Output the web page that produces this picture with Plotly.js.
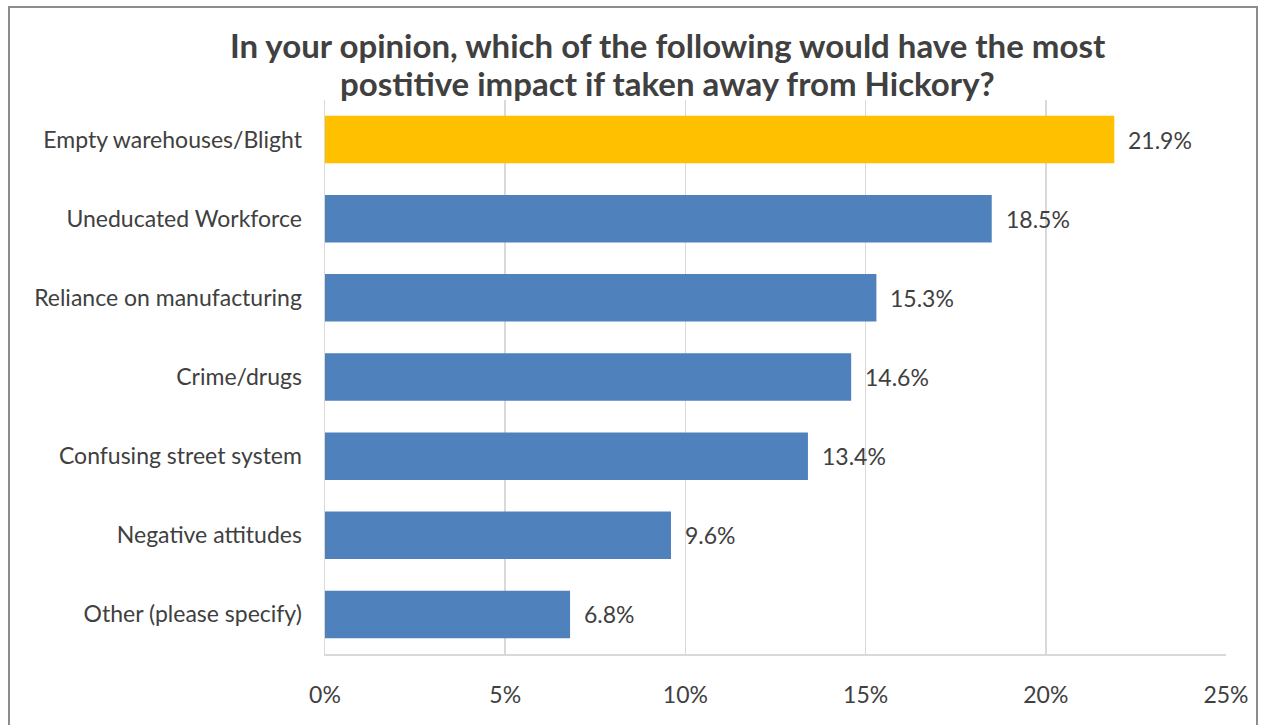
<!DOCTYPE html>
<html><head><meta charset="utf-8">
<script src="https://cdn.plot.ly/plotly-3.0.1.min.js"></script>
<style>
html,body{margin:0;padding:0;background:#fff;}
#frame{position:absolute;left:8px;top:6px;width:1250px;height:740px;border:2px solid #8c8c8c;box-sizing:border-box;}
#chart{position:absolute;left:0;top:0;width:1262px;height:725px;}
</style></head>
<body>
<div id="frame"></div>
<div id="chart"></div>
<script>
const categories = ["Empty warehouses/Blight","Uneducated Workforce","Reliance on manufacturing","Crime/drugs","Confusing street system","Negative attitudes","Other (please specify)"];
const values = [21.9, 18.5, 15.3, 14.6, 13.4, 9.6, 6.8];
const barColors = ["#FFC000","#4F81BD","#4F81BD","#4F81BD","#4F81BD","#4F81BD","#4F81BD"];
const tickVals = [0,5,10,15,20,25];
const tickText = ["0%","5%","10%","15%","20%","25%"];
const titleLines = ["In your opinion, which of the following would have the most","postitive impact if taken away from Hickory?"];
const FONT = "Lato, 'Open Sans', sans-serif";
const TXT = "#404040";

const trace = {
  type: "bar", orientation: "h",
  x: values, y: categories,
  marker: {color: barColors},
  hoverinfo: "none",
  cliponaxis: false
};
const annotations = values.map((v,i)=>({
  x: v, y: categories[i], xref: "x", yref: "y",
  text: v.toFixed(1) + "%", showarrow: false,
  xanchor: "left", xshift: 12,
  font: {family: FONT, size: 23, color: TXT}
}));
// title lines (positions in paper units relative to plot area 325..1226 x, 100..654 y)
const titleY = [(654-45)/554, (654-83)/554];
const titleX = [(668-325)/901, (667-325)/901];
titleLines.forEach((t,i)=>annotations.push({
  x: titleX[i], y: titleY[i], xref: "paper", yref: "paper",
  xanchor: "center", yanchor: "middle", showarrow: false,
  text: "<b>" + t + "</b>",
  font: {family: FONT, size: 33, color: TXT}
}));
const layout = {
  width: 1262, height: 725,
  paper_bgcolor: "rgba(0,0,0,0)", plot_bgcolor: "rgba(0,0,0,0)",
  margin: {l: 325, r: 36, t: 100, b: 71},
  bargap: 0.4,
  showlegend: false,
  font: {family: FONT, color: TXT},
  xaxis: {
    range: [0, 25], tickvals: tickVals, ticktext: tickText,
    showgrid: true, gridcolor: "#d9d9d9", gridwidth: 1.5,
    zeroline: false, showline: true, linecolor: "#d9d9d9", linewidth: 1.5,
    ticks: "outside", ticklen: 20, tickcolor: "rgba(0,0,0,0)",
    tickfont: {family: FONT, size: 23, color: TXT},
    fixedrange: true
  },
  yaxis: {
    autorange: "reversed", type: "category",
    showgrid: false, zeroline: false, showline: true, linecolor: "#d9d9d9", linewidth: 1.5,
    ticks: "outside", ticklen: 17, tickcolor: "rgba(0,0,0,0)",
    tickfont: {family: FONT, size: 23, color: TXT},
    fixedrange: true
  },
  annotations: annotations
};
Plotly.newPlot("chart", [trace], layout, {displayModeBar: false, staticPlot: true});
</script>
</body></html>
